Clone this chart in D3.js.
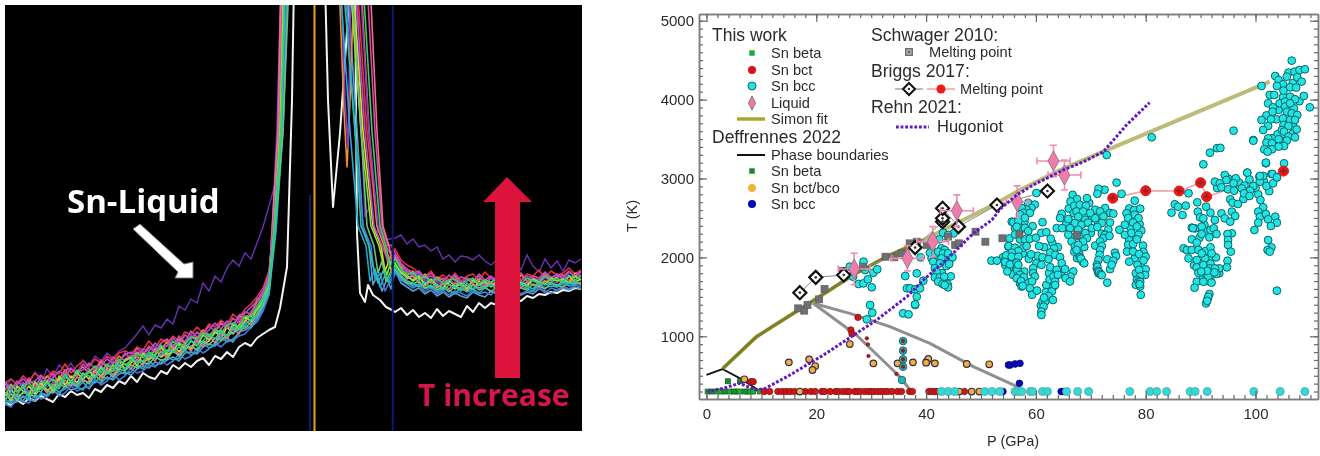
<!DOCTYPE html>
<html lang="en">
<head>
<meta charset="utf-8">
<title>Sn melting</title>
<script src="https://d3js.org/d3.v7.min.js"></script>
<style>
  html, body { margin: 0; padding: 0; background: #fff; }
  svg { display: block; filter: blur(0.35px); }
  text { font-family: "Liberation Sans", Arial, sans-serif; fill: #2b2b2b; }
  .pic { font-family: "Open Sans", sans-serif; font-weight: 700; }
</style>
</head>
<body>
<div id="chart"></div>
<script>
"use strict";
// ---- left picture: spectra, channel against intensity ----
const bandNames = ["steel", "red", "orange", "yellow", "blue", "purple", "cyan", "magenta", "pink", "violet", "lime", "sage", "teal", "green"];
const bandColors = ["#5aa0c8", "#e8303a", "#f09028", "#e8d830", "#4878e0", "#8a3cc8", "#28a8d0", "#d848a8", "#f07088", "#b050d0", "#88e838", "#70c080", "#20c8a8", "#38d068"];

const bandLeft = [
  [26,32,29,35,31,30,38,36,40,37,45,41,43,49,42,50,48,54,51,57,59,56,62,65,63,69,67,71,74,70,78,79,77,84,87,85,90,93,89,99,101,105,113,121,139],
  [48,52,47,55,49,58,53,54,60,57,67,58,65,70,64,72,68,75,71,78,80,77,84,81,90,83,92,88,95,90,99,96,104,98,107,104,111,106,117,112,122,127,134,143,160],
  [41,47,40,44,51,46,45,55,50,52,61,53,59,64,58,60,69,64,67,75,70,73,79,75,84,80,82,89,83,92,88,95,93,101,96,99,108,103,105,115,113,118,129,135,152],
  [35,42,34,38,45,37,48,41,44,52,46,55,48,58,52,61,55,63,60,70,62,68,75,69,72,82,74,78,86,79,88,82,94,87,90,100,93,104,97,106,114,110,122,128,146],
  [27,24,33,29,28,36,32,34,41,35,38,45,40,43,44,52,46,50,57,51,55,63,58,60,66,64,71,66,70,77,72,75,83,78,82,88,84,90,91,95,97,104,109,120,136],
  [44,36,42,49,38,47,52,44,49,46,58,50,57,53,63,55,66,59,70,64,72,76,68,80,74,85,78,86,81,90,84,96,88,99,92,103,96,107,100,112,107,120,123,138,150],
  [31,28,36,30,40,33,37,35,43,39,42,47,44,41,51,48,55,52,53,60,57,59,66,62,70,65,68,75,71,73,81,76,79,88,83,86,95,89,92,98,105,103,112,124,137],
  [47,41,50,45,53,43,55,50,58,48,60,63,55,67,61,62,71,65,74,69,78,72,83,76,85,79,88,92,84,95,89,100,94,97,105,100,109,103,113,108,119,117,132,136,156],
  [39,33,37,44,34,42,46,38,47,43,51,45,54,50,49,60,53,62,56,65,67,62,72,66,76,70,80,73,83,76,86,80,91,84,96,88,99,92,103,97,111,106,118,127,148],
  [49,43,46,52,48,50,56,49,53,60,55,62,59,61,68,63,65,72,68,70,76,79,74,82,80,88,83,85,93,87,96,92,99,95,101,108,102,110,106,116,118,124,130,140,158],
  [38,30,45,40,36,49,42,50,39,55,47,49,59,51,60,54,64,57,66,61,71,74,65,78,71,77,84,76,80,88,82,90,85,96,91,98,101,95,107,102,110,116,121,131,145],
  [32,37,31,39,36,35,44,40,38,47,44,49,45,52,47,56,50,59,54,62,60,66,63,68,67,74,71,72,80,75,82,85,81,90,86,93,91,96,98,102,103,109,115,126,141],
  [30,40,35,47,32,41,39,48,45,42,54,50,46,57,55,53,62,58,60,67,61,72,69,70,77,73,76,81,79,84,80,91,86,90,97,92,100,95,104,101,106,112,116,129,142],
  [36,46,39,43,48,41,50,47,52,45,57,48,61,56,59,65,58,67,62,72,66,70,78,73,79,75,86,79,90,85,87,94,92,98,95,102,97,106,108,104,115,114,125,133,150]
];
const bandRight = [
  [160,148,144,140,143,137,141,135,139,134,138,135,133,139,136,134,140,137,135,141,138,136,139,137,142,140,138,141,143,141,144,142],
  [182,171,166,163,158,154,160,152,156,151,158,150,155,157,151,159,153,152,158,154,160,151,157,155,161,153,160,156,158,163,157,161],
  [172,165,158,160,152,157,148,154,151,149,155,146,153,148,152,150,147,155,149,153,148,156,150,152,149,157,151,154,156,150,158,155],
  [166,159,156,150,154,146,151,143,148,147,142,149,145,141,150,144,148,146,143,151,145,149,144,152,146,150,148,153,147,155,149,152],
  [158,151,147,143,146,139,144,137,141,136,140,138,135,141,137,139,136,142,138,135,143,137,140,139,144,138,143,141,145,142,146,144],
  [175,162,160,153,157,150,152,149,146,152,147,150,143,151,148,146,153,145,150,147,152,146,149,151,147,153,150,148,155,149,154,156],
  [161,152,149,145,147,142,145,139,143,141,137,144,139,142,138,143,140,137,145,141,139,146,142,140,147,143,145,144,148,145,147,149],
  [178,168,162,158,160,153,158,151,149,156,150,154,152,148,157,151,155,149,156,152,154,158,150,155,153,159,152,157,155,160,154,159],
  [174,163,152,156,148,145,150,144,147,142,148,146,141,147,143,145,149,142,147,144,146,143,149,146,144,150,147,145,151,148,150,147],
  [176,167,160,156,159,152,155,150,153,149,156,148,153,150,155,147,154,151,149,157,152,150,155,153,151,158,154,156,152,159,155,160],
  [168,158,154,151,155,147,152,146,143,150,145,148,142,151,146,149,144,150,147,145,151,148,146,152,149,147,153,150,152,148,155,151],
  [162,154,148,147,150,143,146,141,144,139,145,142,140,146,141,144,139,145,142,140,146,143,141,147,145,142,148,146,144,149,147,148],
  [165,156,150,148,144,149,143,147,141,146,144,140,148,142,146,143,147,141,145,148,143,147,145,142,149,146,148,144,150,147,149,146],
  [172,162,156,159,151,155,149,153,147,151,152,145,150,153,147,151,149,152,146,154,149,147,153,150,148,155,150,153,149,156,151,155]
];
// channels where each band line climbs to the peak and comes back down
const riseLevels = [200, 300, 450];
const bandRise = [[270,277,282],[268,273,277],[269,275,279],[268,274,278],[270,277,281],[267,272,276],[271,278,283],[268,274,277],[267,273,276],[268,275,280],[269,275,279],[270,278,284],[270,276,280],[269,276,280]];
const fallLevels = [450, 300, 205, 185];
const bandFall = [[342,352,358,364],[352,362,372,380],[356,364,372,379],[348,358,368,376],[340,350,358,366],[355,364,373,381],[335,345,353,361],[362,370,377,383],[365,372,378,384],[350,360,369,377],[345,356,366,374],[347,356,362,369],[338,350,356,364],[358,367,375,381]];
// noisy tail of each line between the fall and the flat part
const bandTailX = [[368,372,377,382,386],[384,387],[383,387],[380,384,387],[370,375,380,385],[385],[365,370,375,380,385],[386],[387],[381,385],[378,382,386],[373,377,381,386],[368,373,378,383],[385]];
const bandTailY = [[146,156,140,152,142],[172,180],[168,176],[160,170,158],[150,158,140,150],[178],[150,162,144,156,148],[186],[170],[175,165],[168,156,170],[158,170,150,160],[165,148,160,150],[165]];
// the two lines that dip between the peaks
const orangeDipX = [334, 339, 342, 345, 349];
const orangeDipY = [450, 320, 264, 330, 450];
const purpleDipX = [336, 340, 343, 346];
const purpleDipY = [450, 330, 282, 450];

const whiteX = [270,275,282,287,289,320,323,328,335,342,345,350,352,355,360,363,368,375,381,387];
const whiteY = [104,123,164,331,450,450,331,224,298,400,450,450,198,138,129,146,136,131,124,121];
const whiteLeft = [28,26,31,27,33,30,35,32,29,37,34,40,36,38,33,42,39,46,43,50,47,55,49,58,54,52,60,57,66,62,68,64,70,73,66,75,72,79,74,84,88,85,93,97,101];
const whiteRight = [119,123,116,121,114,118,113,122,115,120,117,114,125,119,128,123,128,126,130,129,132,130,135,133,137,136,139,138,141,140,143,142];

const violetX = [272,278,281,352,358,360,365,370,375,380];
const violetY = [254,331,450,450,260,214,225,195,205,191];
const violetLeft = [42,52,46,55,50,59,48,62,54,66,60,68,58,71,65,75,70,78,73,80,83,90,97,105,96,106,103,112,107,125,121,132,128,148,140,155,149,163,171,165,178,172,188,204,225];
const violetRight = [193,196,187,192,184,186,180,184,172,176,169,175,174,171,176,170,166,171,160,168,172,161,176,165,159,172,163,170,160,171,168,172];

// ---- right plot: P (GPa) against T (K) ----
const xTicks = [0, 20, 40, 60, 80, 100];
const yTicks = [1000, 2000, 3000, 4000, 5000];

const betaP = [0.2,2,2.5,4.3,5.5,6,7.5,8,8.5,9.7];
const betaT = [300,300,300,300,300,300,300,300,300,300];
const bctP = [10.5,11.5,13,13.8,14.5,15.2,16,17,18,19,19.8,21,21.5,22.5,23.5,24,24.8,25.5,26,27,27.5,28,28.8,29.5,30,30.5,31.2,31.8,32.5,33,33.8,34.8,35.5,37,37.5,40.5,41,41.5,42,47,8.1,8.5,26.3,26.5,27.6];
const bctT = [300,300,300,300,300,300,300,300,300,300,300,300,300,300,300,300,300,300,300,300,300,300,300,300,300,300,300,300,300,300,300,300,300,300,300,300,300,300,300,300,425,425,1080,1029,1240];
const bctSmall = [[29.2,974],[29.4,898],[29.5,750],[34.6,522],[35.8,940],[35.8,818],[35.8,708],[35.8,615]];

// groups follow the streaks in the picture
const bccLow = [42.8,44,45.2,50.7,52,53.4,56.2,56.8,57.4,59,59.4,61.2,62.1,65.6,67.6,69.6,77.1,80.8,82,83.8,88.1,89,91.2,99.7,104.5,109];
const bccTeal = [[35.8,940],[35.8,818],[35.8,708],[35.8,615],[35.6,446]];
const bccA = [[26.1,1882],[28.6,1946],[28.9,1840],[30.4,1806],[31.1,1849],[26.7,1756],[27.7,1663],[28.6,1671],[29.4,1722],[30.1,1621],[29.8,1397],[30.2,1299],[29.2,1215],[35.8,1291],[36.8,1278],[38,1397]];
const bccB = [[36.2,1764],[38.3,1798],[39.5,1705],[36.5,1608],[37.1,1608],[38,1595],[38.9,1608],[38.3,1503],[38,1405],[39,2001],[42.4,2229],[45,2305],[43.1,2314],[44,2284],[40.7,2060],[41.7,2052],[42.8,2115],[43.4,2094],[42.2,2073],[43.1,2052],[44,2052],[41.3,1946],[42.8,1988],[44.3,1967],[44.8,2001],[42.5,1925],[44.2,1917],[41.6,1862],[41.9,1819],[41.6,1748],[42.5,1748],[43.3,1756],[42.2,1693],[43,1663],[43.9,1663],[44,1621],[43.4,1650],[51.9,1959],[52.9,1959],[54.4,1976],[55.3,1976],[54.4,1904],[55.2,1874],[55,2136],[55.6,2453],[56.5,2453],[56.2,2369]];
const bccC = [[60.1,2816],[58.6,2690],[59.8,2669],[59.2,2627],[58.3,2606],[57.4,2627],[57.7,2564],[58.9,2564],[57.1,2543],[58,2501],[55.9,2446],[56.8,2459],[56.5,2388],[61.2,2446],[59.4,2396],[58,2375],[58.6,2333],[56.2,2291],[57.1,2228],[58,2228],[58.9,2236],[60,2249],[61,2312],[61.9,2320],[62.7,2236],[60.6,2144],[55,2144],[56.2,2123],[57.7,2123],[58.3,2144],[56.8,2081],[55.6,2060],[54.6,2026],[55.6,2009],[56.8,2009],[59.1,2039],[54.4,1940],[55.3,1911],[56.5,1932],[54.8,1822],[56.6,1843],[57.1,1780],[57.8,1750],[56.5,1737],[57.1,1672],[57.4,1631],[56.8,1906]];
const bccD = [[63.3,2115],[62.6,2062],[63.5,2033],[61.2,2003],[62.3,1978],[64.4,2003],[60.1,1926],[61,1906],[59.5,1864],[62.6,1876],[63.8,1843],[64.7,1927],[65.3,1851],[66.8,1822],[63.2,1758],[59.5,1800],[59.8,1758],[66.3,1758],[65.4,1737],[66.2,1695],[59.3,1695],[63.5,1695],[63.2,1631],[58.9,1610],[62.9,1568],[59.3,1526],[62.3,1511],[63.1,1460],[61.7,1441],[61.4,1376],[61,1314],[61,1270],[61.5,1490]];
const bccE = [[66.7,2793],[67.5,2738],[66.3,2709],[69.3,2751],[67,2654],[68,2667],[69.1,2654],[64.7,2553],[67.4,2583],[68.6,2583],[70.8,2604],[72.6,2625],[71.7,2583],[73.5,2562],[69.9,2562],[64.4,2499],[65.9,2486],[67.7,2516],[69,2478],[70.8,2497],[72.3,2518],[74.1,2555],[67.1,2434],[68.3,2413],[69.5,2442],[73.5,2442],[72,2434],[63.8,2371],[64.8,2371],[66.2,2371],[67.7,2352],[70.2,2371],[71.2,2385],[73.2,2352],[72.6,2286],[65.9,2286],[69,2310],[69.3,2244],[72.3,2244],[71.7,2202],[73.4,2272],[66.5,2202],[68.6,2202],[67.1,2138],[67.7,2160],[72,2145],[67,2073],[67.4,2094],[68,2003],[68.5,1946],[71.7,2094],[71.6,2033],[71.4,1967],[71.1,1904],[71.1,1862],[71.4,1799],[74.4,2060],[74.6,2018],[73,1976],[74.1,1959],[73.5,1851],[73.8,1906],[73,1680],[74.7,2948],[72.5,2857],[71.4,2870],[71.2,2806]];
const bccF = [[75.6,2806],[78,2719],[79,2618],[78,2540],[76.8,2499],[78.7,2499],[77.7,2442],[76.2,2413],[78.4,2392],[75.2,2350],[76.2,2286],[77.4,2310],[78.7,2286],[76.8,2160],[77.7,2170],[78.4,2229],[76.6,2073],[77.7,2073],[78.8,2043],[80,2010],[77,1946],[78.5,1906],[79.6,1961],[78.8,1843],[79.9,1777],[79,1758],[78.4,1716],[78.2,1653],[79,1631],[79.1,1526],[78.7,1695]];
const bccG = [[90.5,3180],[101.9,3192],[94.4,3044],[96.4,3002],[92.6,2960],[93.5,2939],[94.7,2981],[96,2939],[93.8,2888],[95,2863],[96.1,2846],[97.5,2875],[98.5,3074],[98.9,2989],[99.6,2905],[99,2846],[97.9,2812],[98.9,2778],[100.7,3023],[101.4,3032],[102.9,3057],[103.9,3015],[100.8,2960],[102,2905],[103.2,2939],[100.5,2799],[100.9,2727],[101.4,2635],[100.5,2580],[100.8,2516],[100.5,2440],[99.8,2347],[101.9,2550],[102.3,2482],[103.6,2516],[103.9,2440],[102.8,2398],[102.3,2220],[102.9,2127],[102.2,2094],[102.6,2073],[103.9,1578]];
const bccH = [[87.8,2812],[89.4,2698],[91,2643],[85.3,2673],[85.9,2643],[87.3,2656],[86.7,2537],[84.7,2567],[91.8,2567],[92.6,2474],[93.8,2558],[94.4,2495],[95.7,2580],[96.3,2525],[95.4,2453],[95.4,2736],[95.8,2694],[96.8,2677],[89.9,2508],[90.5,2495],[88.4,2377],[89,2368],[90.2,2390],[91.8,2347],[92.4,2368],[90.2,2297],[91.6,2254],[92.9,2297],[95.7,2305],[94.9,2297],[95,2221],[95,2157],[95.5,2073],[88.4,2229],[89.3,2187],[86.9,2115],[87.5,2094],[88.4,2094],[89.6,2094],[91.8,2128],[87.8,1988],[90.8,1988],[92,2051],[90.2,2051],[89.3,1967],[94.9,1958],[94.8,1874],[93.4,1861],[89.3,1874],[90.5,1904],[91.7,1861],[92.6,1861],[89.6,1806],[90.8,1798],[92,1777],[92.9,1790],[91.4,1756],[89.3,1692],[90.5,1692],[92,1680],[88.9,1616],[91.6,1536],[91.3,1481],[91,1418]];
const bccI = [[106.6,4494],[106,4342],[107.1,4354],[108,4375],[109,4384],[103.6,4299],[104.2,4249],[105.7,4291],[107.6,4283],[108.4,4228],[105,4194],[103.9,4173],[105.1,4114],[106.3,4156],[107.4,4152],[101.1,4173],[102.6,4059],[103.4,4059],[106.3,4037],[107.2,4004],[108.8,4046],[109.9,3902],[102.3,3953],[103.2,3902],[103.1,3847],[104.4,3953],[105.4,3974],[105.4,3911],[106.3,3953],[105.7,3847],[106.6,3826],[107.6,3805],[105,3763],[106.3,3742],[107.2,3742],[102.8,3750],[101.1,3742],[102.3,3666],[105.1,3678],[106,3666],[107.5,3623],[101.4,3615],[104.8,3615],[105.2,3594],[106,3530],[107.2,3522],[103,3509],[99.6,3488],[102.3,3509],[104.2,3497],[102,3454],[105.7,3480],[103,3446],[105.2,3412],[104.2,3404],[101.6,3370],[103,3370],[102.2,3340],[101.9,3201],[105.2,3192],[98.5,3074],[103.1,3057],[100.8,3032],[103.9,3015],[96,3606],[99.6,3479],[91.7,3327],[93,3385],[93.6,3388],[81.1,3522],[72.9,3298]];
// darker overlap streaks
const bccJ = [[71.2,1880],[71.3,1830],[71.5,1815],[71.8,1790],[72,1775],[68.2,1985],[68.8,1925],[57.3,1700],[57.6,1640],[60.2,1580],[63.5,1650],[64,1780],[79,1690],[78.9,1660],[91.4,1500],[91.2,1450],[88.6,2370],[92.5,1810],[91.2,1830],[90.1,1820]];
// second pass over the dense clusters
const bccK = [[66,2620],[66.9,2560],[68.2,2620],[69.7,2690],[70.2,2500],[71.3,2450],[68.6,2430],[66.5,2440],[65.5,2420],[70,2310],[72,2300],[68,2270],[70.8,2150],[68.8,2130],[67.5,1990],[67.9,2040],[66.9,2260],[57.9,2450],[57,2330],[55.2,2240],[57.6,2050],[58.7,1980],[55,1880],[55.8,1780],[56.8,1800],[57.9,1820],[58.2,1690],[56.1,1970],[54,2000],[60.3,2020],[61.5,2130],[63,2180],[64,2130],[62.4,1800],[61.9,1650],[62.5,1720],[60.9,1390],[61.2,1440],[61.8,1560],[64.6,1790],[77,2620],[77.9,2600],[76.5,2560],[77.2,2380],[78.9,2420],[79.2,2340],[77,2220],[79.5,2150],[79.6,2070],[78,1990],[79.2,1880],[80,1850],[78.2,1800],[89.5,2580],[90.7,2410],[91,2330],[89.8,2250],[90.9,2080],[91.6,1990],[92.8,2000],[90.4,1740],[91.2,1700],[93.4,1800],[91.8,1920],[88.8,1900],[95,3000],[97,2950],[98,2910],[100,2880],[101.5,2970],[102.5,2840],[93,2880],[97.8,2740],[104.5,4200],[106.8,4210],[105,4030],[104.2,3870],[107,3890],[106.9,3660],[104,3560],[103.8,3750],[104.9,3480],[106.8,3570],[108,3980],[102,3800],[103.5,3420],[41.9,2000],[43.7,1890],[42.9,1800],[44.5,1760],[42.8,1690],[40.9,2180],[41,1990]];

const liquidP = [26.9, 36.6, 41.2, 45.6, 56.6, 63.2, 65.2];
const liquidT = [1853, 1988, 2200, 2592, 2706, 3222, 3044];
const liquidPErr = [2.9, 2.9, 2.9, 3, 2, 3, 3];
const liquidTErr = [200, 160, 190, 200, 200, 200, 190];

const simonFit = [[3,594],[9.1,995],[17,1342],[26.7,1777],[32.8,2009],[39.5,2220],[45.6,2432],[52.8,2685],[57.1,2854],[64.4,3108],[72.9,3360],[102.6,4227]];
const simonDark = [[3,594],[9.1,995],[17,1342],[26.7,1777],[32.8,2009],[39.5,2220]];
const hugoniot = [[0,298],[3,340],[6,404],[9.1,319],[10.7,340],[15.2,509],[21.3,763],[27.3,1037],[31,1207],[36.5,1502],[39.5,1713],[44.3,2009],[48.6,2305],[52,2475],[53.5,2614],[56.5,2791],[59.5,2918],[65,3108],[68.7,3213],[72.3,3340],[76.5,3678],[80.7,3961]];

const phaseBlack = [[0,510],[2.9,585],[6.1,467],[9.4,319]];
const phaseGrayA = [[19.4,1418],[27.3,1016],[34.9,509],[37.4,298]];
const phaseGrayB = [[19.4,1418],[26.1,1291],[33.4,1122],[40.7,911],[48.6,615],[56.2,374],[57.1,361]];
const defBeta = [[1,300],[3.3,300],[5,300],[7,300],[3.9,430],[6.1,430]];
const defBct = [[15,670],[18.7,708],[19.8,623],[19.3,573],[6.9,455],[26.1,902],[30.4,657],[34.8,657],[37.6,670],[40.1,678],[40.4,712],[40,666],[41.6,657],[47.4,649],[51.5,645],[17,300],[46,300],[48.3,300],[49.7,300]];
const defBcc = [[55,636],[55.3,636],[56.2,649],[57.1,657],[57,404],[54,300],[64.6,300],[65,300]];

const schwager = [[16.7,1354],[17.8,1325],[18.4,1397],[20.5,1468],[21.5,1599],[24.8,1828],[28.5,1882],[32.6,2009],[34.2,2001],[35.6,2051],[37,2178],[38.3,2199],[40.1,2157],[44,2263],[45.3,2157],[46,2178],[49,2326],[50.8,2199],[53.9,2242],[57,2292],[67.5,2284]];
const briggsBlack = [[17,1553],[19.9,1747],[25,1777],[38,2124],[43,2453],[43,2495],[43,2622],[45.9,2390],[52.9,2664],[62.1,2842]];
const briggsRed = [[74,2751],[80,2845],[86.1,2841],[90,2947],[91.1,2769],[105.1,3094]];

const legendRows = ["Sn beta", "Sn bct", "Sn bcc", "Liquid", "Simon fit"];
const legendRows2 = ["Phase boundaries", "Sn beta", "Sn bct/bco", "Sn bcc"];

const svg = d3.select("#chart").append("svg").attr("width", 1320).attr("height", 456);
svg.append("defs").append("clipPath").attr("id", "pic")
  .append("rect").attr("x", 5).attr("y", 5).attr("width", 577).attr("height", 426);

// left picture
const sx = d3.scaleLinear().domain([0, 577]).range([5, 582]);
const sy = d3.scaleLinear().domain([0, 426]).range([431, 5]);
const leftGrid = d3.range(0, 270, 6);
const rightGrid = d3.range(390, 580, 6);
const spectrum = d3.line().x(d => sx(d[0])).y(d => sy(d[1]));

svg.append("rect").attr("x", 5).attr("y", 5).attr("width", 577).attr("height", 426).attr("fill", "#000");
const pic = svg.append("g").attr("clip-path", "url(#pic)");

pic.append("path")
  .attr("d", spectrum(d3.zip(leftGrid, whiteLeft).concat(d3.zip(whiteX, whiteY), d3.zip(rightGrid, whiteRight))))
  .attr("fill", "none").attr("stroke", "#f4f4f4").attr("stroke-width", 2).attr("stroke-linejoin", "round");

pic.append("path")
  .attr("d", spectrum(d3.zip(leftGrid, violetLeft).concat(d3.zip(violetX, violetY), d3.zip(rightGrid, violetRight))))
  .attr("fill", "none").attr("stroke", "#6a30b4").attr("stroke-width", 1.4);

bandNames.forEach((name, i) => {
  let pts = d3.zip(leftGrid, bandLeft[i]).concat(d3.zip(bandRise[i], riseLevels));
  if (name === "orange") pts = pts.concat(d3.zip(orangeDipX, orangeDipY));
  if (name === "purple") pts = pts.concat(d3.zip(purpleDipX, purpleDipY));
  pts = pts.concat(d3.zip(bandFall[i], fallLevels), d3.zip(bandTailX[i], bandTailY[i]), d3.zip(rightGrid, bandRight[i]));
  pic.append("path").attr("d", spectrum(pts))
    .attr("fill", "none").attr("stroke", bandColors[i]).attr("stroke-width", 1.6).attr("stroke-linejoin", "round");
});

// reference lines of the picture
pic.append("line").attr("x1", 310).attr("x2", 310).attr("y1", 195).attr("y2", 431).attr("stroke", "#0c1a70").attr("stroke-width", 2);
pic.append("line").attr("x1", 392.7).attr("x2", 392.7).attr("y1", 5).attr("y2", 431).attr("stroke", "#0c1a70").attr("stroke-width", 2);
pic.append("line").attr("x1", 314.5).attr("x2", 314.5).attr("y1", 5).attr("y2", 431).attr("stroke", "#f0a020").attr("stroke-width", 2);

// annotations
pic.append("path").attr("d", "M507,177 L532,202 L520,202 L520,378 L495,378 L495,202 L483,202 Z").attr("fill", "#dc143c");
pic.append("path").attr("d", "M133,229 L140,224 L184,264 L193,262 L193,278 L175,278 L178,272 Z")
  .attr("fill", "#fff").attr("stroke", "#777").attr("stroke-width", 1);
svg.append("text").attr("class", "pic").attr("x", 67).attr("y", 213).attr("font-size", 33).style("fill", "#fff").text("Sn-Liquid");
svg.append("text").attr("class", "pic").attr("x", 418).attr("y", 406).attr("font-size", 30).style("fill", "#d4164a").text("T increase");

// right plot
const x = d3.scaleLinear().domain([(699 - 706.5) / 5.49, (1318 - 706.5) / 5.49]).range([699, 1318]);
const y = d3.scaleLinear().domain([5000 - (399 - 20.7) / 0.0789, 5000 - (14 - 20.7) / 0.0789]).range([399, 14]);
const toLine = d3.line().x(d => x(d[0])).y(d => y(d[1]));

const plot = svg.append("g");
function drawCurve(data, color, width, dash) {
  plot.append("path").attr("d", toLine(data)).attr("fill", "none").attr("stroke", color)
    .attr("stroke-width", width).attr("stroke-dasharray", dash || null).attr("stroke-linejoin", "round");
}
function dots(data, r, fill, stroke, sw) {
  plot.append("g").selectAll("circle").data(data).join("circle")
    .attr("cx", d => x(d[0])).attr("cy", d => y(d[1])).attr("r", r)
    .attr("fill", fill).attr("stroke", stroke).attr("stroke-width", sw);
}
function squares(data, s, fill, stroke) {
  plot.append("g").selectAll("rect").data(data).join("rect")
    .attr("x", d => x(d[0]) - s / 2).attr("y", d => y(d[1]) - s / 2).attr("width", s).attr("height", s)
    .attr("fill", fill).attr("stroke", stroke).attr("stroke-width", 0.7);
}

drawCurve(phaseGrayA, "#8f8f8f", 3);
drawCurve(phaseGrayB, "#8f8f8f", 3);
drawCurve(phaseBlack, "#111", 1.8);
drawCurve(simonFit, "#bdbb78", 4);
drawCurve(simonDark, "#7f7d22", 3);
drawCurve(briggsBlack, "#8a8a8a", 1);
drawCurve(briggsRed, "#f2a0a0", 1.6);

squares(betaP.map((p, i) => [p, betaT[i]]), 5, "#22a838", "#12702a");
squares(defBeta, 5, "#1c8a30", "#0f5c20");
dots(bctP.map((p, i) => [p, bctT[i]]), 3.2, "#cc1616", "#8a1418", 0.8);
dots(defBct, 3.3, "#f0b040", "#3a2c4a", 1.2);
dots(defBcc, 3.4, "#0808b4", "#060670", 0.6);

dots(bccLow.map(p => [p, 300]), 4, "#2cdcd8", "#5fa8a8", 1);
dots(bccTeal, 3.8, "#25b4b0", "#1c6a70", 1);
[bccK, bccA, bccB, bccC, bccD, bccE, bccF, bccG, bccH, bccI, bccJ].forEach(g => dots(g, 3.9, "#1fe6e2", "#0c626a", 1));
dots(bctSmall, 1.8, "#a01820", "#701018", 0.5);

squares(schwager, 7, "#6f6f6f", "#5c5c5c");

// Briggs markers
plot.append("g").selectAll("path").data(briggsBlack).join("path")
  .attr("d", "M0,-6.5L6.5,0L0,6.5L-6.5,0Z")
  .attr("transform", d => "translate(" + x(d[0]) + "," + y(d[1]) + ")")
  .attr("fill", "#fff").attr("stroke", "#111").attr("stroke-width", 2.2);
dots(briggsBlack, 1.3, "#333", "none", 0);
dots(briggsRed, 5, "#f01818", "#e01010", 1);
plot.append("g").selectAll("path").data(briggsRed).join("path")
  .attr("d", d3.symbol(d3.symbolCross, 22))
  .attr("transform", d => "translate(" + x(d[0]) + "," + y(d[1]) + ")")
  .attr("fill", "#a02020");

// liquid with error bars
const liquid = plot.append("g").selectAll("g").data(liquidP).join("g");
const cap = 3.5;
liquid.append("path").attr("fill", "none").attr("stroke", "#ee8cb0").attr("stroke-width", 1.6)
  .attr("d", (p, i) => {
    const cx = x(p), cy = y(liquidT[i]);
    const l = x(p - liquidPErr[i]), r = x(p + liquidPErr[i]);
    const t = y(liquidT[i] + liquidTErr[i]), b = y(liquidT[i] - liquidTErr[i]);
    return "M" + l + "," + cy + "H" + r + "M" + l + "," + (cy - cap) + "V" + (cy + cap) + "M" + r + "," + (cy - cap) + "V" + (cy + cap)
      + "M" + cx + "," + t + "V" + b + "M" + (cx - cap) + "," + t + "H" + (cx + cap) + "M" + (cx - cap) + "," + b + "H" + (cx + cap);
  });
liquid.append("path").attr("d", "M0,-10L5.5,0L0,10L-5.5,0Z")
  .attr("transform", (p, i) => "translate(" + x(p) + "," + y(liquidT[i]) + ")")
  .attr("fill", "#f07cac").attr("stroke", "#8a6a78").attr("stroke-width", 0.8);

drawCurve(hugoniot, "#6018c4", 3, "2.8,1.8");

// axes, all four sides with inward ticks
const axes = svg.append("g");
const xMinor = d3.range(0, 112, 2), yMinor = d3.range(300, 5001, 100);
function side(axis, translate) {
  const g = axes.append("g").attr("transform", translate).call(axis);
  g.selectAll("path,line").attr("stroke", "#666").attr("stroke-width", 1.2);
  g.select(".domain").attr("stroke", "#7c7c7c").attr("stroke-width", 1.5);
  g.selectAll("text").attr("font-size", 15).attr("font-family", "Liberation Sans, Arial, sans-serif").attr("fill", "#2b2b2b");
  return g;
}
side(d3.axisBottom(x).tickValues(xMinor).tickSize(-4).tickSizeOuter(0).tickFormat(""), "translate(0,399)");
side(d3.axisTop(x).tickValues(xMinor).tickSize(-4).tickSizeOuter(0).tickFormat(""), "translate(0,14)");
side(d3.axisLeft(y).tickValues(yMinor).tickSize(-4).tickSizeOuter(0).tickFormat(""), "translate(699,0)");
side(d3.axisRight(y).tickValues(yMinor).tickSize(-4).tickSizeOuter(0).tickFormat(""), "translate(1318,0)");
side(d3.axisBottom(x).tickValues(xTicks).tickSize(-8).tickSizeOuter(0).tickPadding(9).tickFormat(d3.format("d")), "translate(0,399)");
side(d3.axisTop(x).tickValues(xTicks).tickSize(-8).tickSizeOuter(0).tickFormat(""), "translate(0,14)");
side(d3.axisLeft(y).tickValues(yTicks).tickSize(-8).tickSizeOuter(0).tickPadding(5).tickFormat(d3.format("d")), "translate(699,0)");
side(d3.axisRight(y).tickValues(yTicks).tickSize(-8).tickSizeOuter(0).tickFormat(""), "translate(1318,0)");

svg.append("text").attr("x", 1013).attr("y", 446).attr("text-anchor", "middle").attr("font-size", 14.5).text("P (GPa)");
svg.append("text").attr("transform", "translate(637,216) rotate(-90)").attr("text-anchor", "middle").attr("font-size", 14.5).text("T (K)");

// legend
const legend = svg.append("g");
function label(tx, ty, str, size) {
  legend.append("text").attr("x", tx).attr("y", ty).attr("font-size", size).text(str);
}
label(712, 41, "This work", 17.5);
legendRows.forEach((t, i) => label(771, [58, 75, 91, 108, 124][i], t, 14.6));
label(712, 143, "Deffrennes 2022", 17.5);
legendRows2.forEach((t, i) => label(771, [160, 176, 193, 209][i], t, 14.6));
label(871, 41, "Schwager 2010:", 17.6);
label(929, 57, "Melting point", 14.6);
label(871, 77, "Briggs 2017:", 17.6);
label(960, 94, "Melting point", 14.6);
label(871, 113, "Rehn 2021:", 17.6);
label(937, 132, "Hugoniot", 16.5);

function keyLine(x1, x2, ky, color, w, dash) {
  legend.append("line").attr("x1", x1).attr("x2", x2).attr("y1", ky).attr("y2", ky)
    .attr("stroke", color).attr("stroke-width", w).attr("stroke-dasharray", dash || null);
}
function keyDot(kx, ky, r, fill, stroke) {
  legend.append("circle").attr("cx", kx).attr("cy", ky).attr("r", r).attr("fill", fill).attr("stroke", stroke || "none");
}
function keySquare(kx, ky, s, fill) {
  legend.append("rect").attr("x", kx - s / 2).attr("y", ky - s / 2).attr("width", s).attr("height", s).attr("fill", fill);
}
keySquare(752, 53, 5.5, "#22a838");
keyDot(752, 70, 4, "#e01010");
keyDot(752, 86, 4, "#1fe6e2", "#0f6a72");
legend.append("path").attr("d", "M752,96L755.5,103L752,110L748.5,103Z").attr("fill", "#f07cac").attr("stroke", "#8a6a78");
keyLine(737, 765, 119, "#a8a830", 3.5);
keyLine(737, 765, 155, "#111", 2);
keySquare(752, 171, 5.5, "#1c8a30");
keyDot(752, 188, 4, "#f0b040");
keyDot(752, 204, 4, "#0808b4");
keySquare(909, 52, 8, "#6f6f6f");
legend.append("rect").attr("x", 907).attr("y", 50).attr("width", 4).attr("height", 4).attr("fill", "none").attr("stroke", "#ddd").attr("stroke-width", 0.8);
keyLine(895, 923, 89, "#777", 1);
legend.append("path").attr("d", "M909,83L915,89L909,95L903,89Z").attr("fill", "#fff").attr("stroke", "#111").attr("stroke-width", 2);
keyDot(909, 89, 1.2, "#333");
keyLine(927, 955, 89, "#f2a0a0", 1.5);
keyDot(941, 89, 4.5, "#f01818");
keyLine(896, 929, 127, "#6018c4", 3, "2.8,1.8");
</script>
</body>
</html>
